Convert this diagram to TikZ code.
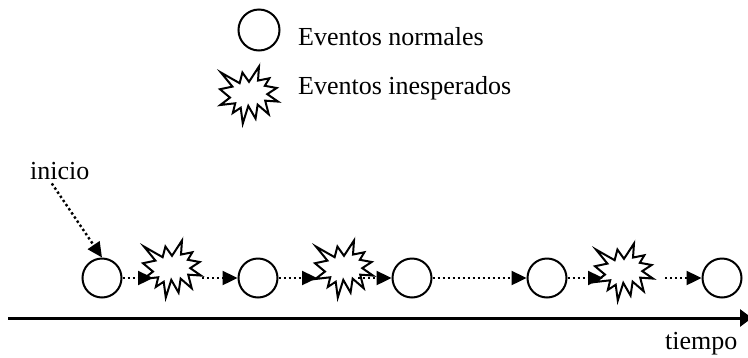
\documentclass[tikz,border=0pt]{standalone}
\usepackage{fontspec}
\setmainfont{Liberation Serif}
\usetikzlibrary{arrows.meta}
\tikzset{
  evnode/.style={circle, draw, line width=2pt, minimum size=39pt, inner sep=0pt},
  legcircle/.style={circle, draw, line width=2pt, minimum size=41pt, inner sep=0pt},
  starnode/.style={inner sep=0pt, minimum size=2pt},
  lbl/.style={inner sep=0pt, font=\fontsize{26}{30}\selectfont},
  flow/.style={line width=2.4pt, dash pattern=on 2.4pt off 2.6pt,
    -{Triangle[length=15pt,width=14pt]}},
  axis/.style={line width=3pt, -{Triangle[length=12pt,width=17pt]}},
  explosion/.pic={
    \draw[line width=2pt, fill=white, line join=miter,
      shift={(-29,-28.5)}, xscale=0.2685, yscale=0.2639]
      (108,58) -- (145.22,0) -- (141.55,53.25) -- (183.8,44.57) -- (167.02,73.15)
      -- (210.97,81.37) -- (176.07,104.75) -- (216,132.9) -- (168.37,129.42)
      -- (181.45,180.95) -- (140.2,144.57) -- (132.47,197.37) -- (105.32,149.35)
      -- (84.85,216) -- (77.15,156.27) -- (47.62,176.17) -- (56.67,139.37)
      -- (1.35,145.87) -- (37.22,117.75) -- (0,86.15) -- (46.27,76.17)
      -- (3.7,22.95) -- (73.12,63.2) -- (83.52,22.95) -- cycle;
  }
}
\begin{document}
\begin{tikzpicture}[x=1pt,y=-1pt]
\useasboundingbox (0,0) rectangle (748,357);
% legend
\node[legcircle] (lc) at (259,30) {};
\node[lbl, anchor=base west] (ln) at (298,45) {Eventos normales};
\pic at (249,95) {explosion};
\coordinate (ls) at (249,95);
\node[lbl, anchor=base west] (li) at (298,94) {Eventos inesperados};
% events
\node[evnode] (c1) at (102,278) {};
\node[evnode] (c2) at (258,278) {};
\node[evnode] (c3) at (412,278) {};
\node[evnode] (c4) at (547,278) {};
\node[evnode] (c5) at (722,278) {};
\pic at (172,269) {explosion};
\pic at (344,269) {explosion};
\pic at (624,272) {explosion};
\node[starnode] (s1) at (172,278) {};
\node[starnode] (s2) at (344,278) {};
\node[starnode] (s3) at (624,278) {};
% connectors
\draw[flow] (c1.east) -- ([xshift=-19pt]s1.center);
\draw[flow] ([xshift=30pt]s1.center) -- (c2.west);
\draw[flow] (c2.east) -- ([xshift=-27pt]s2.center);
\draw[flow] ([xshift=14pt]s2.center) -- (c3.west);
\draw[flow] (c3.east) -- (c4.west);
\draw[flow] (c4.east) -- ([xshift=-21pt]s3.center);
\draw[flow] ([xshift=41pt]s3.center) -- (c5.west);
% inicio
\node[lbl, anchor=base west] (ini) at (30,179) {inicio};
\draw[flow] ([xshift=-8pt,yshift=-4pt]ini.south) -- (c1.north);
% axis
\coordinate (a0) at (8,318);
\coordinate (a1) at (752,318);
\draw[axis] (a0) -- (a1);
\node[lbl, anchor=base west] (tp) at (665,349) {tiempo};
\end{tikzpicture}
\end{document}
